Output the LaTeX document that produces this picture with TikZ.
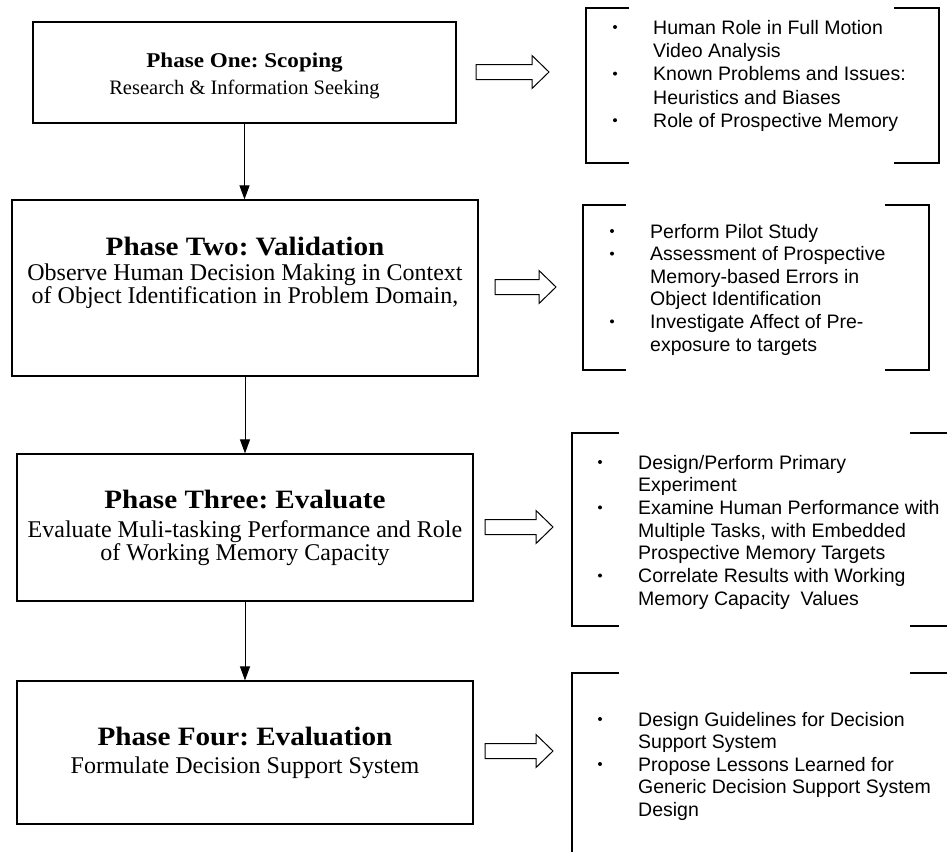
\documentclass[tikz,border=0pt]{standalone}
\usepackage{fontspec}
\setmainfont{Liberation Serif}
\newfontfamily\listfont{Liberation Sans}
\newfontfamily\headfont[FakeStretch=1.1]{Liberation Serif}
\usetikzlibrary{arrows.meta}
\frenchspacing

\newcommand\blockarr[5]{% name, x0, xtip, xhead, yc
  \coordinate (#1) at (#2,#5);
  \draw[blockarrow] (#2,#5-7.5) -- (#4,#5-7.5) -- (#4,#5-16.5) -- (#3,#5)
    -- (#4,#5+16.5) -- (#4,#5+7.5) -- (#2,#5+7.5) -- cycle;}

\begin{document}
\begin{tikzpicture}[x=1pt,y=-1pt,
  phasebox/.style={draw, line width=1.2pt, inner sep=0pt},
  flow/.style={line width=1pt, -{Triangle[length=14pt,width=10pt]}},
  blockarrow/.style={draw, line width=1pt, fill=white, line join=miter},
  bracket/.style={line width=1.2pt},
  item/.style={anchor=base west, inner sep=0pt, font=\listfont\fontsize{19.5}{22}\selectfont},
  bul/.style={circle, fill, inner sep=0pt, minimum size=4pt},
  ttl/.style={anchor=base, inner sep=0pt, font=\headfont\bfseries\fontsize{26.5}{30}\selectfont},
  ttlsmall/.style={anchor=base, inner sep=0pt, font=\headfont\bfseries\fontsize{21}{24}\selectfont},
  sub/.style={anchor=base, inner sep=0pt, font=\fontsize{24}{28}\selectfont},
  subsmall/.style={anchor=base, inner sep=0pt, font=\fontsize{20.5}{24}\selectfont},
]
\useasboundingbox (0,0) rectangle (947,852);

% phase boxes
\node[phasebox, minimum width=423pt, minimum height=101pt] (p1) at (244.5,72.5) {};
\node[phasebox, minimum width=466pt, minimum height=176pt] (p2) at (245,288) {};
\node[phasebox, minimum width=456pt, minimum height=147pt] (p3) at (245,527.5) {};
\node[phasebox, minimum width=456pt, minimum height=143pt] (p4) at (245,752.5) {};

\draw[flow] (p1.south) -- (p1.south |- p2.north);
\draw[flow] (p2.south) -- (p2.south |- p3.north);
\draw[flow] (p3.south) -- (p3.south |- p4.north);

% phase texts
\node[ttlsmall] (t1) at (244.5,67) {Phase One: Scoping};
\node[subsmall] (s1) at (244.5,94) {Research \& Information Seeking};
\node[ttl] (t2) at (245,255) {Phase Two: Validation};
\node[sub] (s2a) at (245,280) {Observe Human Decision Making in Context};
\node[sub] (s2b) at (245,303) {of Object Identification in Problem Domain,};
\node[ttl] (t3) at (245,508) {Phase Three: Evaluate};
\node[sub] (s3a) at (245,537) {Evaluate Muli-tasking Performance and Role};
\node[sub] (s3b) at (245,560) {of Working Memory Capacity};
\node[ttl] (t4) at (245,745) {Phase Four: Evaluation};
\node[sub] (s4) at (245,773) {Formulate Decision Support System};

% block arrows
\blockarr{a1}{476}{549}{532}{72}
\blockarr{a2}{495}{556}{539}{287}
\blockarr{a3}{485}{553}{536}{527}
\blockarr{a4}{485}{553}{536}{751}

% brackets
\draw[bracket] (629,8) -- (586,8) -- (586,163) -- (629,163);
\draw[bracket] (894,8) -- (939,8) -- (939,163) -- (894,163);
\draw[bracket] (626,205) -- (583,205) -- (583,370) -- (626,370);
\draw[bracket] (885,205) -- (929,205) -- (929,370) -- (885,370);
\draw[bracket] (619,433) -- (572,433) -- (572,626) -- (619,626);
\draw[bracket] (910,433) -- (947,433);
\draw[bracket] (910,626) -- (947,626);
\draw[bracket] (619,673) -- (572,673) -- (572,852);
\draw[bracket] (910,673) -- (947,673);

% list 1
\node[bul] (b1a) at (615,27) {};
\node[bul] (b1b) at (615,73.6) {};
\node[bul] (b1c) at (615,120.2) {};
\node[item] (r1a) at (653,34) {Human Role in Full Motion};
\node[item] (r1b) at (653,57.3) {Video Analysis};
\node[item] (r1c) at (653,80.6) {Known Problems and Issues:};
\node[item] (r1d) at (653,104) {Heuristics and Biases};
\node[item] (r1e) at (653,127.2) {Role of Prospective Memory};

% list 2
\node[bul] (b2a) at (612,231) {};
\node[bul] (b2b) at (612,253.6) {};
\node[bul] (b2c) at (612,321.4) {};
\node[item] (r2a) at (650,238) {Perform Pilot Study};
\node[item] (r2b) at (650,260.6) {Assessment of Prospective};
\node[item] (r2c) at (650,283.2) {Memory-based Errors in};
\node[item] (r2d) at (650,305.8) {Object Identification};
\node[item] (r2e) at (650,328.4) {Investigate Affect of Pre-};
\node[item] (r2f) at (650,351) {exposure to targets};

% list 3
\node[bul] (b3a) at (600,462) {};
\node[bul] (b3b) at (600,507.4) {};
\node[bul] (b3c) at (600,575.5) {};
\node[item] (r3a) at (638,469) {Design/Perform Primary};
\node[item] (r3b) at (638,491.7) {Experiment};
\node[item] (r3c) at (638,514.4) {Examine Human Performance with};
\node[item] (r3d) at (638,537.1) {Multiple Tasks, with Embedded};
\node[item] (r3e) at (638,559.8) {Prospective Memory Targets};
\node[item] (r3f) at (638,582.5) {Correlate Results with Working};
\node[item] (r3g) at (638,605.2) {Memory Capacity\ \ Values};

% list 4
\node[bul] (b4a) at (600,719) {};
\node[bul] (b4b) at (600,764) {};
\node[item] (r4a) at (638,726) {Design Guidelines for Decision};
\node[item] (r4b) at (638,748.5) {Support System};
\node[item] (r4c) at (638,771) {Propose Lessons Learned for};
\node[item] (r4d) at (638,793.5) {Generic Decision Support System};
\node[item] (r4e) at (638,816) {Design};
\end{tikzpicture}
\end{document}
